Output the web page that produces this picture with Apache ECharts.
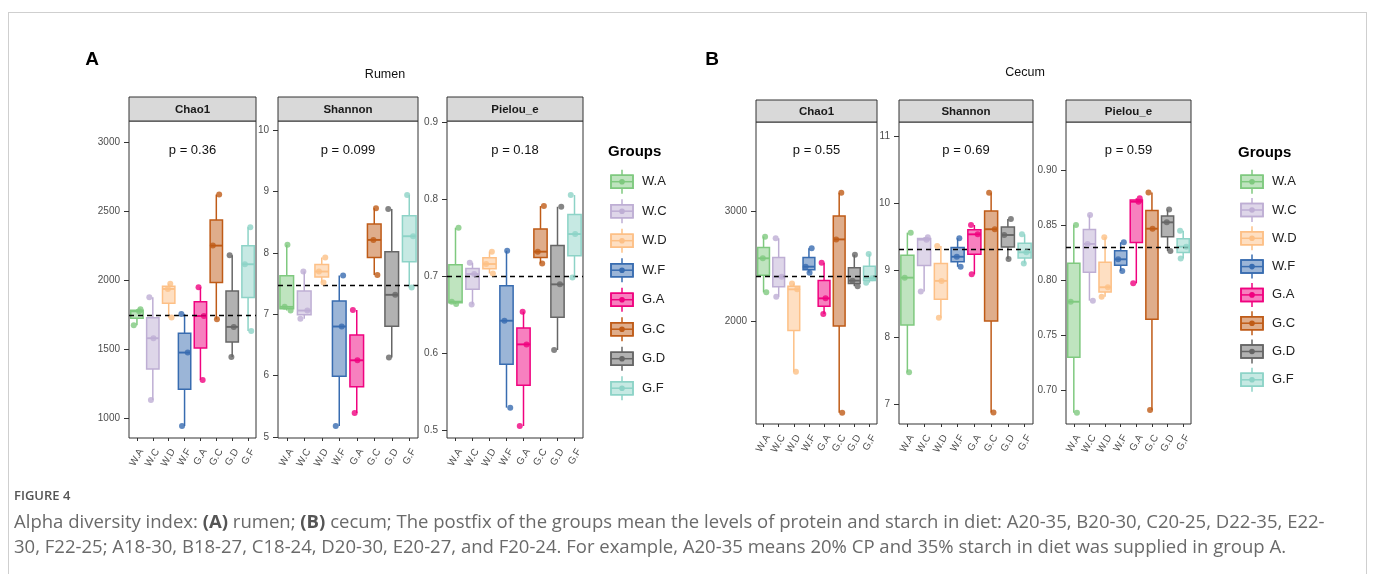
<!DOCTYPE html>
<html>
<head>
<meta charset="utf-8">
<script src="https://cdn.jsdelivr.net/npm/echarts@6/dist/echarts.min.js"></script>
<style>
  body { margin: 0; background: #fff; }
  #wrap { position: relative; width: 1375px; height: 574px; overflow: hidden; background: #fff; }
  #frame { position: absolute; left: 8px; top: 12px; width: 1359px; height: 700px; border: 1px solid #cfcfcf; box-sizing: border-box; }
  #chart { position: absolute; left: 0; top: 0; width: 1375px; height: 574px; }
  #fig { position: absolute; left: 14px; top: 486px; font: 600 13px 'Open Sans', sans-serif; color: #555; }
  .cap { position: absolute; left: 14px; font-family: 'Open Sans', sans-serif; font-size: 16px; color: #6a6a6a; white-space: nowrap; line-height: 20px; }
  .cap b { font-weight: 700; color: #555; }
</style>
</head>
<body>
<div id="wrap">
  <div id="frame"></div>
  <div id="chart"></div>
  <div id="fig">FIGURE 4</div>
  <div class="cap" style="top:511px;"><span id="cap1">Alpha diversity index: <b>(A)</b> rumen; <b>(B)</b> cecum; The postfix of the groups mean the levels of protein and starch in diet: A20-35, B20-30, C20-25, D22-35, E22-</span></div>
  <div class="cap" style="top:536px;"><span id="cap2">30, F22-25; A18-30, B18-27, C18-24, D20-30, E20-27, and F20-24. For example, A20-35 means 20% CP and 35% starch in diet was supplied in group A.</span></div>
</div>
<script>
// ---------------- DATA ----------------
const groups = ['W.A', 'W.C', 'W.D', 'W.F', 'G.A', 'G.C', 'G.D', 'G.F'];
const groupColors = ['#7FC97F', '#BEAED4', '#FDC086', '#386CB0', '#F0027F', '#BF5B17', '#666666', '#8DD3C7'];
const metricNames = ['Chao1', 'Shannon', 'Pielou_e'];
const sectionTitles = ['Rumen', 'Cecum'];
const panelLetters = ['A', 'B'];
const legendTitle = 'Groups';

// three samples per group
const rumenChao1 = [[1674, 1775, 1790], [1133, 1580, 1877], [1730, 1937, 1975], [944, 1476, 1756],
                    [1278, 1741, 1949], [1717, 2251, 2621], [1444, 1662, 2181], [1633, 2116, 2384]];
const rumenShannon = [[7.06, 7.12, 8.13], [6.925, 7.06, 7.695], [7.516, 7.695, 7.923], [5.18, 6.80, 7.63],
                      [5.39, 6.25, 7.07], [7.64, 8.21, 8.726], [6.296, 7.316, 8.715], [7.435, 8.27, 8.94]];
const rumenPielou = [[0.6635, 0.6665, 0.7625], [0.663, 0.7024, 0.717], [0.7032, 0.7154, 0.7314], [0.529, 0.6418, 0.7326],
                     [0.5052, 0.6111, 0.6535], [0.7162, 0.7314, 0.7906], [0.6038, 0.689, 0.7897], [0.698, 0.7543, 0.8049]];
const cecumChao1 = [[2267, 2576, 2773], [2227, 2409, 2758], [1545, 2294, 2348], [2445, 2500, 2667],
                    [2070, 2212, 2536], [1173, 2748, 3173], [2323, 2373, 2608], [2355, 2394, 2615]];
const cecumShannon = [[7.477, 8.888, 9.559], [8.68, 9.455, 9.49], [8.29, 8.84, 9.36], [9.05, 9.20, 9.475],
                      [8.938, 9.534, 9.673], [6.876, 9.61, 10.155], [9.166, 9.524, 9.763], [9.10, 9.266, 9.534]];
const cecumPielou = [[0.6793, 0.7805, 0.8505], [0.7815, 0.8332, 0.8596], [0.7851, 0.7937, 0.8393], [0.8085, 0.8192, 0.8347],
                     [0.7973, 0.8717, 0.8748], [0.6818, 0.8471, 0.8802], [0.8267, 0.8529, 0.8645], [0.820, 0.8307, 0.8453]];

const rumenMeans = [1746, 7.467, 0.7028];
const cecumMeans = [2415, 9.31, 0.8313];
const rumenP = ['p = 0.36', 'p = 0.099', 'p = 0.18'];
const cecumP = ['p = 0.55', 'p = 0.69', 'p = 0.59'];

const rumenTicks = [[1000, 1500, 2000, 2500, 3000], [5, 6, 7, 8, 9, 10], [0.5, 0.6, 0.7, 0.8, 0.9]];
const cecumTicks = [[2000, 3000], [7, 8, 9, 10, 11], [0.70, 0.75, 0.80, 0.85, 0.90]];

// ---------------- LAYOUT ----------------
const LAYOUT = [
  { left: 129, top: 121, width: 127, height: 317, min: 857,   max: 3154,   dec: 0, stripTop: 97,  stripH: 24 },
  { left: 278, top: 121, width: 140, height: 317, min: 4.985, max: 10.146, dec: 0, stripTop: 97,  stripH: 24 },
  { left: 447, top: 121, width: 136, height: 317, min: 0.4896,max: 0.901,  dec: 1, stripTop: 97,  stripH: 24 },
  { left: 756, top: 122, width: 121, height: 302, min: 1070,  max: 3815,   dec: 0, stripTop: 100, stripH: 22 },
  { left: 899, top: 122, width: 134, height: 302, min: 6.706, max: 11.209, dec: 0, stripTop: 100, stripH: 22 },
  { left: 1066,top: 122, width: 125, height: 302, min: 0.669, max: 0.9444, dec: 2, stripTop: 100, stripH: 22 }
];
const JIT = [-0.2, 0.14, 0.22, -0.12, 0.04, -0.22, 0.18, -0.05, 0.1, -0.16, 0.2];
const FONT = '"Liberation Sans", Arial, sans-serif';

const panelValues = [rumenChao1, rumenShannon, rumenPielou, cecumChao1, cecumShannon, cecumPielou];
const panelTicks = rumenTicks.concat(cecumTicks);
const panelMeans = rumenMeans.concat(cecumMeans);
const panelP = rumenP.concat(cecumP);

// fit caption font size so line 1 spans the same width as in the reference
(function () {
  const s1 = document.getElementById('cap1'), s2 = document.getElementById('cap2');
  const w = s1.getBoundingClientRect().width;
  const fs = 16 * 1311 / w;
  s1.parentNode.style.fontSize = fs + 'px';
  s2.parentNode.style.fontSize = fs + 'px';
})();

function q7(sorted, p) {
  const h = (sorted.length - 1) * p;
  const lo = Math.floor(h);
  const hi = Math.min(lo + 1, sorted.length - 1);
  return sorted[lo] + (h - lo) * (sorted[hi] - sorted[lo]);
}
function hexA(hex, a) {
  const r = parseInt(hex.slice(1, 3), 16), g = parseInt(hex.slice(3, 5), 16), b = parseInt(hex.slice(5, 7), 16);
  return 'rgba(' + r + ',' + g + ',' + b + ',' + a + ')';
}

function renderBox(params, api) {
  const idx = api.value(0);
  const lo = api.coord([idx, api.value(1)]);
  const q1 = api.coord([idx, api.value(2)]);
  const md = api.coord([idx, api.value(3)]);
  const q3 = api.coord([idx, api.value(4)]);
  const hi = api.coord([idx, api.value(5)]);
  const bw = api.size([1, 0])[0] * 0.78;
  const x = lo[0];
  const c = groupColors[idx];
  const lw = 1.5;
  return {
    type: 'group',
    children: [
      { type: 'line', shape: { x1: x, y1: hi[1], x2: x, y2: q3[1] }, style: { stroke: c, lineWidth: lw } },
      { type: 'line', shape: { x1: x, y1: q1[1], x2: x, y2: lo[1] }, style: { stroke: c, lineWidth: lw } },
      { type: 'rect', shape: { x: x - bw / 2, y: q3[1], width: bw, height: q1[1] - q3[1] },
        style: { fill: hexA(c, 0.5), stroke: c, lineWidth: lw } },
      { type: 'line', shape: { x1: x - bw / 2, y1: md[1], x2: x + bw / 2, y2: md[1] }, style: { stroke: c, lineWidth: 1.9 } }
    ]
  };
}

const grid = [], xAxis = [], yAxis = [], series = [], graphic = [];

LAYOUT.forEach(function (L, i) {
  const vals = panelValues[i];
  grid.push({ left: L.left, top: L.top, width: L.width, height: L.height, show: true,
              borderColor: '#333', borderWidth: 1, backgroundColor: '#fff', containLabel: false });
  xAxis.push({
    type: 'category', gridIndex: i, data: groups, position: 'bottom',
    axisLine: { show: false, onZero: false },
    axisTick: { show: true, inside: false, length: 3, alignWithLabel: true, lineStyle: { color: '#333' } },
    axisLabel: { interval: 0, rotate: 60, fontSize: 10, color: '#4d4d4d', margin: 9, verticalAlign: 'top', fontFamily: FONT }
  });
  xAxis.push({ type: 'value', gridIndex: i, min: -0.5, max: 7.5, show: false, axisLine: { onZero: false } });
  const dec = L.dec;
  yAxis.push({
    type: 'value', gridIndex: i, min: L.min, max: L.max, position: 'left',
    axisLine: { show: false, onZero: false }, splitLine: { show: false },
    axisTick: { show: true, inside: false, length: 5, lineStyle: { color: '#333' }, customValues: panelTicks[i] },
    axisLabel: { customValues: panelTicks[i], fontSize: 10, color: '#4d4d4d', margin: 9, fontFamily: FONT,
                 formatter: function (v) { return Number(v).toFixed(dec); } }
  });
  const boxData = vals.map(function (arr, g) {
    const s = arr.slice().sort(function (a, b) { return a - b; });
    return [g, s[0], q7(s, 0.25), q7(s, 0.5), q7(s, 0.75), s[s.length - 1]];
  });
  series.push({
    type: 'custom', xAxisIndex: 2 * i + 1, yAxisIndex: i, renderItem: renderBox,
    encode: { x: 0, y: [1, 2, 3, 4, 5] }, data: boxData, z: 2, silent: true
  });
  const pts = [];
  vals.forEach(function (arr, g) {
    arr.forEach(function (v, k) {
      pts.push({ value: [g + JIT[(g * 3 + k + i * 2) % JIT.length], v], itemStyle: { color: groupColors[g] } });
    });
  });
  series.push({
    type: 'scatter', xAxisIndex: 2 * i + 1, yAxisIndex: i, data: pts, symbolSize: 6, z: 4, silent: true,
    markLine: { silent: true, symbol: 'none', label: { show: false }, z: 3,
                lineStyle: { type: [5, 4], color: '#000', width: 1.4 },
                data: [{ yAxis: panelMeans[i] }] }
  });
  // strip
  graphic.push({ type: 'rect', shape: { x: L.left, y: L.stripTop, width: L.width, height: L.stripH },
                 style: { fill: '#D9D9D9', stroke: '#333', lineWidth: 1 }, z: 10 });
  graphic.push({ type: 'text', x: L.left + L.width / 2, y: L.stripTop + L.stripH / 2 + 0.5, z: 11,
                 style: { text: metricNames[i % 3], font: 'bold 11.5px ' + FONT, fill: '#1a1a1a', align: 'center', verticalAlign: 'middle' } });
  graphic.push({ type: 'text', x: L.left + L.width / 2, y: 150, z: 11,
                 style: { text: panelP[i], font: '13px ' + FONT, fill: '#111', align: 'center', verticalAlign: 'middle' } });
});

// section titles / letters
const secInfo = [{ letterX: 92, letterY: 60, titleX: 385, titleY: 75 }, { letterX: 712, letterY: 60, titleX: 1025, titleY: 73 }];
secInfo.forEach(function (s, j) {
  graphic.push({ type: 'text', x: s.letterX, y: s.letterY, style: { text: panelLetters[j], font: 'bold 19px ' + FONT, fill: '#000', align: 'center', verticalAlign: 'middle' } });
  graphic.push({ type: 'text', x: s.titleX, y: s.titleY, style: { text: sectionTitles[j], font: '12.5px ' + FONT, fill: '#111', align: 'center', verticalAlign: 'middle' } });
});

// legends
const legInfo = [{ titleX: 608, titleY: 152, cx: 622, lx: 642, y0: 181.7, step: 29.5 },
                 { titleX: 1238, titleY: 153, cx: 1252, lx: 1272, y0: 181.7, step: 28.3 }];
legInfo.forEach(function (Lg) {
  graphic.push({ type: 'text', x: Lg.titleX, y: Lg.titleY, style: { text: legendTitle, font: 'bold 15px ' + FONT, fill: '#000', align: 'left', verticalAlign: 'middle' } });
  groups.forEach(function (gname, g) {
    const cy = Lg.y0 + g * Lg.step, c = groupColors[g], cx = Lg.cx;
    graphic.push({ type: 'line', shape: { x1: cx, y1: cy - 12, x2: cx, y2: cy + 12 }, style: { stroke: c, lineWidth: 1.5 } });
    graphic.push({ type: 'rect', shape: { x: cx - 11, y: cy - 6.5, width: 22, height: 13 }, style: { fill: '#fff', stroke: c, lineWidth: 1.5 } });
    graphic.push({ type: 'rect', shape: { x: cx - 11, y: cy - 6.5, width: 22, height: 13 }, style: { fill: hexA(c, 0.5), stroke: c, lineWidth: 1.5 } });
    graphic.push({ type: 'line', shape: { x1: cx - 11, y1: cy, x2: cx + 11, y2: cy }, style: { stroke: c, lineWidth: 1.5 } });
    graphic.push({ type: 'circle', shape: { cx: cx, cy: cy, r: 2.8 }, style: { fill: c } });
    graphic.push({ type: 'text', x: Lg.lx, y: cy, style: { text: gname, font: '13px ' + FONT, fill: '#222', align: 'left', verticalAlign: 'middle' } });
  });
});

const chart = echarts.init(document.getElementById('chart'), null, { renderer: 'canvas' });
chart.setOption({
  animation: false,
  backgroundColor: 'transparent',
  grid: grid, xAxis: xAxis, yAxis: yAxis, series: series, graphic: graphic
});
</script>
</body>
</html>
